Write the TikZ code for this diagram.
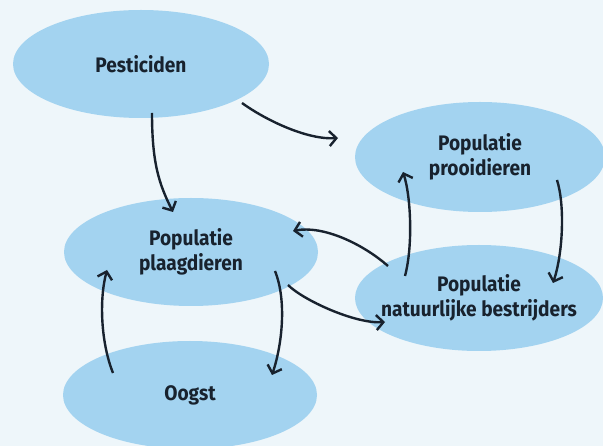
\documentclass[tikz,border=0pt]{standalone}
\usepackage{fontspec}
\usepackage{tikz}
\usetikzlibrary{shapes,arrows.meta,calc}
\newfontfamily\labelfont[FakeStretch=0.91,BoldFont={Fira Sans Bold}]{Fira Sans}
\definecolor{bgblue}{HTML}{EEF6FA}
\definecolor{cellblue}{HTML}{A3D3F0}
\definecolor{inkdark}{HTML}{18222E}
\tikzset{
    population/.style={
    ellipse,fill=cellblue,inner xsep=-30pt,inner ysep=-8pt,align=center,text=inkdark,
    font=\labelfont\bfseries\fontsize{21}{25}\selectfont
    },
    influence/.style={
    -{Straight Barb[length=7pt,width=15pt]},line width=2.4pt,draw=inkdark
    },
}
\begin{document}
\begin{tikzpicture}[x=1pt,y=-1pt]
  \fill[bgblue] (0,0) rectangle (603,446);
  \useasboundingbox (0,0) rectangle (603,446);
  \clip (0,0) rectangle (603,446);

  \node[population,minimum width=256pt,minimum height=108pt] (PEST) at (141,64) {Pesticiden};
  \node[population,minimum width=250pt,minimum height=110pt] (PROOI) at (480,157) {Populatie\\prooidieren};
  \node[population,minimum width=254pt,minimum height=108pt] (PLAAG) at (191,252) {Populatie\\plaagdieren};
  \node[population,minimum width=248pt,minimum height=106pt] (BESTR) at (479,298) {Populatie\\natuurlijke bestrijders};
  \node[population,minimum width=254pt,minimum height=108pt] (OOGST) at (190,395) {Oogst};

  \draw[influence] ([shift={(11,49)}]PEST.center) .. controls +(0,50) and +(-14,-28) .. ([shift={(-18,-40)}]PLAAG.center);
  \draw[influence] ([shift={(101,39)}]PEST.center) .. controls +(25,18) and +(-30,2) .. ([shift={(-142,-19)}]PROOI.center);
  \draw[influence] ([shift={(-74,-22)}]BESTR.center) .. controls +(8,-30) and +(8,25) .. ([shift={(-77,15)}]PROOI.center);
  \draw[influence] ([shift={(77,23)}]PROOI.center) .. controls +(8,25) and +(10,-30) .. ([shift={(74,-15)}]BESTR.center);
  \draw[influence] ([shift={(-91,-32)}]BESTR.center) .. controls +(-25,-22) and +(30,-6) .. ([shift={(102,-21)}]PLAAG.center);
  \draw[influence] ([shift={(97,33)}]PLAAG.center) .. controls +(15,15) and +(-30,2) .. ([shift={(-94,24)}]BESTR.center);
  \draw[influence] ([shift={(84,19)}]PLAAG.center) .. controls +(12,30) and +(10,-30) .. ([shift={(82,-20)}]OOGST.center);
  \draw[influence] ([shift={(-77,-22)}]OOGST.center) .. controls +(-12,-30) and +(-8,30) .. ([shift={(-84,18)}]PLAAG.center);
\end{tikzpicture}
\end{document}
